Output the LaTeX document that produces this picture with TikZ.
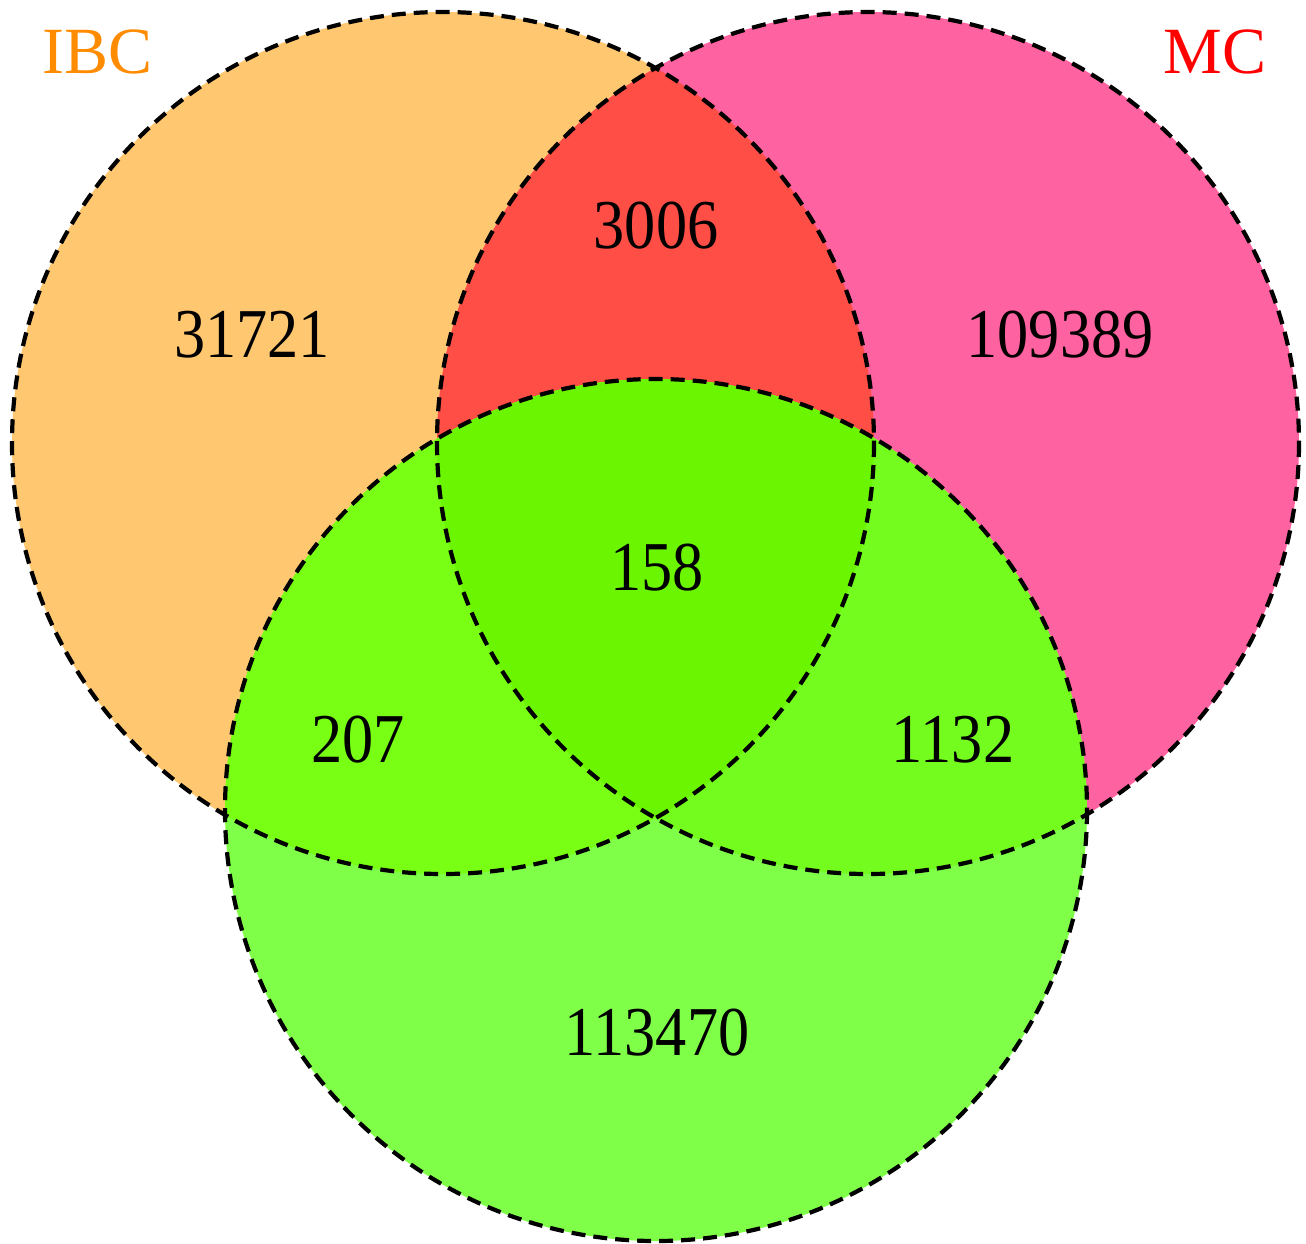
\documentclass[tikz,border=0pt]{standalone}
\usepackage{fontspec}
\setmainfont{Liberation Serif}
\definecolor{cOr}{HTML}{FFC870}
\definecolor{cPk}{HTML}{FF62A0}
\definecolor{cRd}{HTML}{FF4E46}
\definecolor{cGr}{HTML}{80FF48}
\definecolor{cGO}{HTML}{78FF14}
\definecolor{cGP}{HTML}{74FC1E}
\definecolor{cTr}{HTML}{6CF500}
\definecolor{cIBC}{HTML}{FF8C00}
\definecolor{cMC}{HTML}{FF0000}
\newcommand{\numtext}[1]{\scalebox{0.89}[1]{#1}}
\begin{document}
\begin{tikzpicture}[x=1pt,y=-1pt,
  outline/.style={draw=black,line width=4.2pt,dash pattern=on 14pt off 8pt},
  num/.style={font=\fontsize{70}{84}\selectfont,text=black,inner sep=0pt},
  setlabel/.style={font=\fontsize{66}{80}\selectfont,inner sep=0pt}]
\useasboundingbox (0,0) rectangle (1306,1243);
\def\cA{(443,443) circle[radius=431]}
\def\cB{(868,443) circle[radius=431]}
\def\cC{(656,810) circle[radius=431]}
\fill[cOr] \cA;
\fill[cPk] \cB;
\begin{scope}\clip \cA; \fill[cRd] \cB; \end{scope}
\fill[cGr] \cC;
\begin{scope}\clip \cC; \fill[cGO] \cA; \fill[cGP] \cB; \end{scope}
\begin{scope}\clip \cC; \clip \cA; \fill[cTr] \cB; \end{scope}
\draw[outline] \cA;
\draw[outline] \cB;
\draw[outline] \cC;
\node[setlabel,text=cIBC] (ibc) at (98,52) {IBC};
\node[setlabel,text=cMC] (mc) at (1215,52) {MC};
\node[num] (a) at (252,335) {\numtext{31721}};
\node[num] (ab) at (656,226) {\numtext{3006}};
\node[num] (b) at (1060,335) {\numtext{109389}};
\node[num] (abc) at (657,568) {\numtext{158}};
\node[num] (ac) at (358,740) {\numtext{207}};
\node[num] (bc) at (953,740) {\numtext{1132}};
\node[num] (c) at (657,1033) {\numtext{113470}};
\end{tikzpicture}
\end{document}
